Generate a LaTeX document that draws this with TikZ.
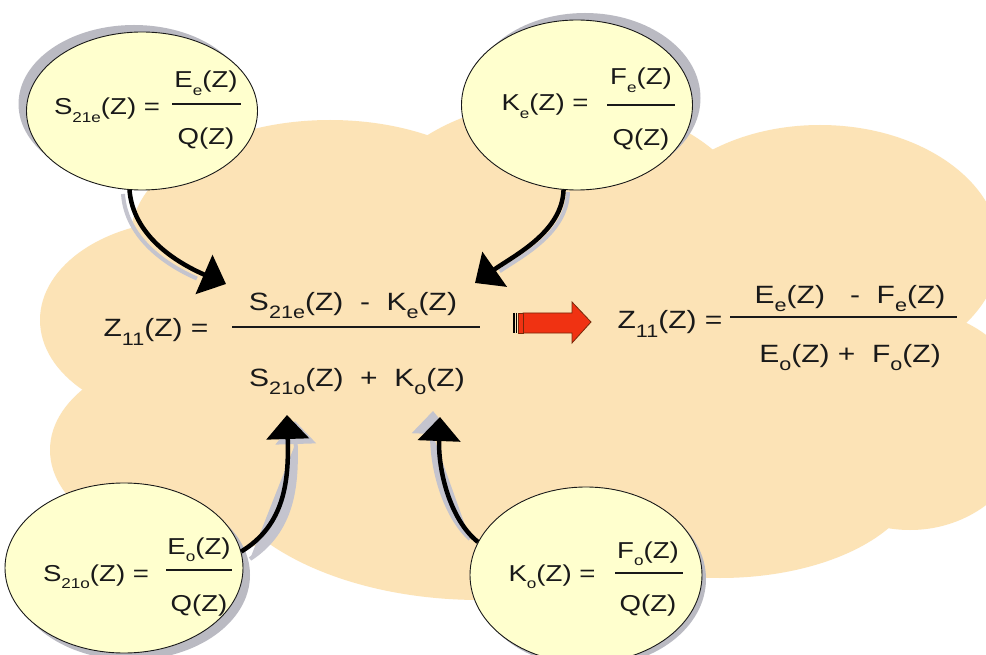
\documentclass[tikz,border=0pt]{standalone}
\usepackage{fontspec}
\setmainfont{Liberation Sans}[FakeStretch=1.2]
\usetikzlibrary{positioning,shapes.geometric,arrows.meta,shadows}

\definecolor{cloudorange}{RGB}{252,227,182}
\definecolor{bubbleyellow}{RGB}{255,255,206}
\definecolor{bubbleshade}{RGB}{186,186,194}
\definecolor{trailgray}{RGB}{196,196,206}
\definecolor{pushred}{RGB}{240,50,18}
\definecolor{pushedge}{RGB}{120,40,10}
\definecolor{ink}{RGB}{25,25,25}

\newcommand{\lo}[1]{\raisebox{-0.32em}{\scalebox{0.72}{#1}}}
\newcommand{\los}[1]{\raisebox{-0.32em}{\scalebox{0.62}{#1}}}

\begin{document}
\begin{tikzpicture}[x=1pt,y=-1pt,
  bubble/.style={ellipse,draw=ink,line width=0.9pt,fill=bubbleyellow,inner sep=0pt},
  bigtxt/.style={inner sep=0pt,anchor=base,text=ink,font=\fontsize{25}{25}\selectfont},
  eqtxt/.style={inner sep=0pt,anchor=base,text=ink,font=\fontsize{23}{23}\selectfont},
  bar/.style={draw=ink,line width=1.2pt},
  flow/.style={draw=black,line width=4.5pt,-{Triangle[width=42pt,length=24pt]}},
  trail/.style={draw=trailgray,line width=4pt,shorten >=24pt},
  trailtip/.style={draw=trailgray,fill=trailgray,line width=4pt,-{Triangle[width=40pt,length=23pt]}}]

\useasboundingbox (0,0) rectangle (986,655);
\fill[white] (0,0) rectangle (986,655);

% cloud
\begin{scope}
\clip (0,0) rectangle (986,655);
\fill[cloudorange] (330,240) ellipse [x radius=200, y radius=120];
\fill[cloudorange] (560,240) ellipse [x radius=200, y radius=140];
\fill[cloudorange] (820,250) ellipse [x radius=180, y radius=125];
\fill[cloudorange] (190,320) ellipse [x radius=150, y radius=100];
\fill[cloudorange] (210,450) ellipse [x radius=160, y radius=100];
\fill[cloudorange] (480,450) ellipse [x radius=270, y radius=150];
\fill[cloudorange] (720,470) ellipse [x radius=200, y radius=108];
\fill[cloudorange] (910,420) ellipse [x radius=120, y radius=110];
\fill[cloudorange] (520,330) ellipse [x radius=300, y radius=150];
\end{scope}

% bubbles
\node[bubble,minimum width=231pt,minimum height=158pt,
  drop shadow={shadow xshift=-8pt,shadow yshift=7pt,fill=bubbleshade,opacity=1}] (s21e) at (142,111) {};
\node[bubble,minimum width=231pt,minimum height=170pt,
  drop shadow={shadow xshift=8pt,shadow yshift=7pt,fill=bubbleshade,opacity=1}] (kev) at (577,105) {};
\node[bubble,minimum width=238pt,minimum height=170pt,
  drop shadow={shadow xshift=7pt,shadow yshift=-7pt,fill=bubbleshade,opacity=1}] (s21o) at (124,568) {};
\node[bubble,minimum width=232pt,minimum height=176pt,
  drop shadow={shadow xshift=4pt,shadow yshift=-4pt,fill=bubbleshade,opacity=1}] (kod) at (586,575) {};

\node[eqtxt] (s21e-lhs) at (107,115) {S\los{21e}(Z) =};
\node[eqtxt] (s21e-num) at (206,88) {E\los{e}(Z)};
\node[eqtxt] (s21e-den) at (206,145) {Q(Z)};
\draw[bar] (172,104) -- (241,104);

\node[eqtxt] (kev-lhs) at (545,111) {K\los{e}(Z) =};
\node[eqtxt] (kev-num) at (641,85) {F\los{e}(Z)};
\node[eqtxt] (kev-den) at (641,146) {Q(Z)};
\draw[bar] (607,105) -- (675,105);

\node[eqtxt] (s21o-lhs) at (96,581) {S\los{21o}(Z) =};
\node[eqtxt] (s21o-num) at (199,554) {E\los{o}(Z)};
\node[eqtxt] (s21o-den) at (199,611) {Q(Z)};
\draw[bar] (166,570) -- (232,570);

\node[eqtxt] (kod-lhs) at (552,581) {K\los{o}(Z) =};
\node[eqtxt] (kod-num) at (648,558) {F\los{o}(Z)};
\node[eqtxt] (kod-den) at (648,611) {Q(Z)};
\draw[bar] (615,573) -- (683,573);

% main formula
\node[bigtxt] (zleft) at (156,337) {Z\lo{11}(Z) =};
\node[bigtxt] (numleft) at (353,311) {S\lo{21e}(Z)\ \ -\ \ K\lo{e}(Z)};
\node[bigtxt] (denleft) at (357,386) {S\lo{21o}(Z)\ \ +\ \ K\lo{o}(Z)};
\draw[bar] (232,327) -- (480,327);

\node[bigtxt] (zright) at (670,329) {Z\lo{11}(Z) =};
\node[bigtxt] (numright) at (850,304) {E\lo{e}(Z)\ \ \ -\ \ F\lo{e}(Z)};
\node[bigtxt] (denright) at (850,362) {E\lo{o}(Z) +\ \ F\lo{o}(Z)};
\draw[bar] (730,317) -- (957,317);

% red arrow
\filldraw[fill=pushred,draw=pushedge,line width=0.8pt] (523,313) -- (572,313) -- (572,302) -- (591,322)
  -- (572,343) -- (572,333) -- (523,333) -- cycle;
\filldraw[fill=pushred,draw=pushedge,line width=0.8pt] (518,313) rectangle (523,333);
\draw[line width=1.3pt] (514,313) -- (514,333) (516.5,313) -- (516.5,333);

% curved arrows
\coordinate (tipA) at (226,284);
\coordinate (tipB) at (475,283);
\coordinate (tipC) at (287,415);
\coordinate (tipD) at (440,417);

\draw[trail] (123,194) .. controls (126,239) and (168,266) .. (219,288);
\draw[trail] (568,192) .. controls (567,234) and (520,257) .. (480,285);
\draw[trailtip] (250,559) .. controls (293,531) and (297,486) .. (295,421);
\draw[trailtip] (470,539) .. controls (443,514) and (431,464) .. (433,411);

\draw[flow] (s21e.-99) .. controls (133,235) and (175,262) .. (tipA);
\draw[flow] (kev.-99) .. controls (562,232) and (515,255) .. (tipB);
\draw[flow] (s21o.8) .. controls (285,525) and (289,480) .. (tipC);
\draw[flow] (kod.163) .. controls (450,520) and (438,470) .. (tipD);
\end{tikzpicture}
\end{document}
